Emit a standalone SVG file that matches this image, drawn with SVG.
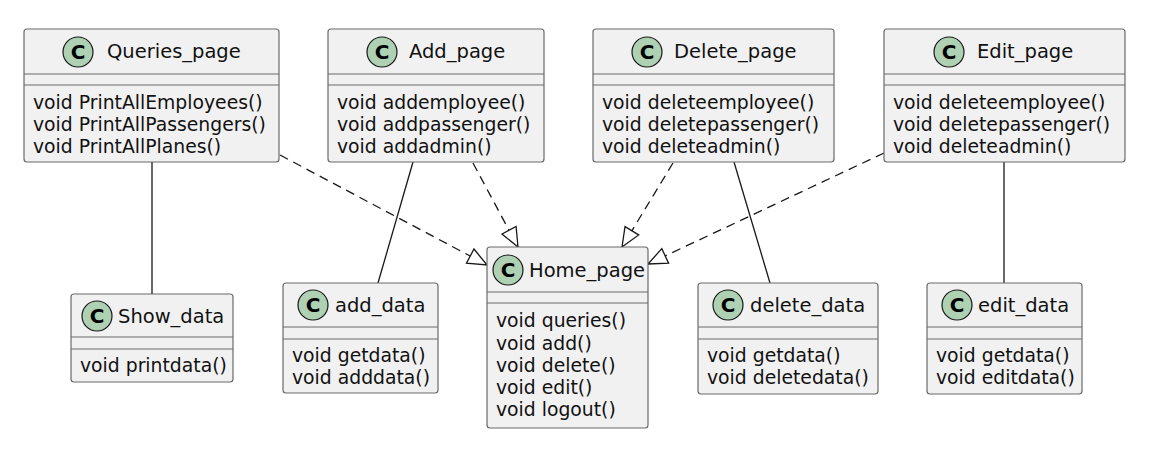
<svg xmlns="http://www.w3.org/2000/svg" width="1159" height="455" viewBox="0 0 1159 455">
<style>
.box{fill:#F1F1F1;stroke:#6a6a6a;stroke-width:1.2}
.sep{stroke:#6a6a6a;stroke-width:1.2}
.circ{fill:#ADD1B2;stroke:#181818;stroke-width:1.2}
.cl{font-family:"DejaVu Sans",sans-serif;font-size:20px;font-weight:bold;fill:#000;text-anchor:middle}
.t{font-family:"DejaVu Sans",sans-serif;font-size:19.5px;fill:#111}
.m{font-family:"DejaVu Sans",sans-serif;font-size:18.8px;fill:#111}
.solid{stroke:#181818;stroke-width:1.3;fill:none}
.dash{stroke:#181818;stroke-width:1.3;fill:none;stroke-dasharray:9,6}
</style>
<defs>
<marker id="tri" markerUnits="userSpaceOnUse" markerWidth="24" markerHeight="24" viewBox="-22 -11 24 22" refX="0" refY="0" orient="auto">
<path d="M0,0 L-19,-8 L-19,8 Z" fill="#FFFFFF" stroke="#181818" stroke-width="1.3"/>
</marker>
</defs>
<rect width="1159" height="455" fill="#FFFFFF"/>
<g id="connectors">
<line class="solid" x1="152" y1="162" x2="152" y2="294"/>
<line class="solid" x1="413" y1="162" x2="378" y2="283"/>
<line class="solid" x1="734" y1="162" x2="770" y2="283"/>
<line class="solid" x1="1004" y1="162" x2="1004" y2="283"/>
<line class="dash" x1="280" y1="155" x2="487" y2="265" marker-end="url(#tri)"/>
<line class="dash" x1="473" y1="163" x2="518" y2="247" marker-end="url(#tri)"/>
<line class="dash" x1="673" y1="163" x2="622" y2="247" marker-end="url(#tri)"/>
<line class="dash" x1="884" y1="153" x2="648" y2="264" marker-end="url(#tri)"/>
</g>
<g id="Queries_page">
<rect class="box" x="24" y="29" width="255" height="133" rx="3"/>
<line class="sep" x1="24" y1="74" x2="279" y2="74"/>
<line class="sep" x1="24" y1="85" x2="279" y2="85"/>
<circle class="circ" cx="78" cy="52" r="15"/>
<text class="cl" x="78" y="59">C</text>
<text class="t" x="107" y="58">Queries_page</text>
<text class="m" x="33" y="109">void PrintAllEmployees()</text>
<text class="m" x="33" y="131">void PrintAllPassengers()</text>
<text class="m" x="33" y="153">void PrintAllPlanes()</text>
</g>
<g id="Add_page">
<rect class="box" x="328" y="29" width="216" height="133" rx="3"/>
<line class="sep" x1="328" y1="74" x2="544" y2="74"/>
<line class="sep" x1="328" y1="85" x2="544" y2="85"/>
<circle class="circ" cx="382" cy="52" r="15"/>
<text class="cl" x="382" y="59">C</text>
<text class="t" x="409" y="58">Add_page</text>
<text class="m" x="337" y="109">void addemployee()</text>
<text class="m" x="337" y="131">void addpassenger()</text>
<text class="m" x="337" y="153">void addadmin()</text>
</g>
<g id="Delete_page">
<rect class="box" x="593" y="29" width="241" height="133" rx="3"/>
<line class="sep" x1="593" y1="74" x2="834" y2="74"/>
<line class="sep" x1="593" y1="85" x2="834" y2="85"/>
<circle class="circ" cx="647" cy="52" r="15"/>
<text class="cl" x="647" y="59">C</text>
<text class="t" x="674" y="58">Delete_page</text>
<text class="m" x="602" y="109">void deleteemployee()</text>
<text class="m" x="602" y="131">void deletepassenger()</text>
<text class="m" x="602" y="153">void deleteadmin()</text>
</g>
<g id="Edit_page">
<rect class="box" x="884" y="29" width="241" height="133" rx="3"/>
<line class="sep" x1="884" y1="74" x2="1125" y2="74"/>
<line class="sep" x1="884" y1="85" x2="1125" y2="85"/>
<circle class="circ" cx="949" cy="52" r="15"/>
<text class="cl" x="949" y="59">C</text>
<text class="t" x="977" y="58">Edit_page</text>
<text class="m" x="893" y="109">void deleteemployee()</text>
<text class="m" x="893" y="131">void deletepassenger()</text>
<text class="m" x="893" y="153">void deleteadmin()</text>
</g>
<g id="Show_data">
<rect class="box" x="71" y="294" width="162" height="88" rx="3"/>
<line class="sep" x1="71" y1="337" x2="233" y2="337"/>
<line class="sep" x1="71" y1="349" x2="233" y2="349"/>
<circle class="circ" cx="97" cy="316" r="15"/>
<text class="cl" x="97" y="323">C</text>
<text class="t" x="118" y="323">Show_data</text>
<text class="m" x="80" y="372">void printdata()</text>
</g>
<g id="add_data">
<rect class="box" x="283" y="283" width="155" height="110" rx="3"/>
<line class="sep" x1="283" y1="327" x2="438" y2="327"/>
<line class="sep" x1="283" y1="339" x2="438" y2="339"/>
<circle class="circ" cx="313" cy="305" r="15"/>
<text class="cl" x="313" y="312">C</text>
<text class="t" x="335" y="312">add_data</text>
<text class="m" x="292" y="362">void getdata()</text>
<text class="m" x="292" y="384">void adddata()</text>
</g>
<g id="Home_page">
<rect class="box" x="487" y="247" width="161" height="181" rx="3"/>
<line class="sep" x1="487" y1="292" x2="648" y2="292"/>
<line class="sep" x1="487" y1="303" x2="648" y2="303"/>
<circle class="circ" cx="508" cy="270" r="15"/>
<text class="cl" x="508" y="277">C</text>
<text class="t" x="529" y="277">Home_page</text>
<text class="m" x="496" y="327">void queries()</text>
<text class="m" x="496" y="350">void add()</text>
<text class="m" x="496" y="372">void delete()</text>
<text class="m" x="496" y="394">void edit()</text>
<text class="m" x="496" y="416">void logout()</text>
</g>
<g id="delete_data">
<rect class="box" x="698" y="283" width="180" height="111" rx="3"/>
<line class="sep" x1="698" y1="327" x2="878" y2="327"/>
<line class="sep" x1="698" y1="339" x2="878" y2="339"/>
<circle class="circ" cx="728" cy="305" r="15"/>
<text class="cl" x="728" y="312">C</text>
<text class="t" x="750" y="312">delete_data</text>
<text class="m" x="707" y="362">void getdata()</text>
<text class="m" x="707" y="384">void deletedata()</text>
</g>
<g id="edit_data">
<rect class="box" x="927" y="283" width="155" height="111" rx="3"/>
<line class="sep" x1="927" y1="327" x2="1082" y2="327"/>
<line class="sep" x1="927" y1="339" x2="1082" y2="339"/>
<circle class="circ" cx="957" cy="305" r="15"/>
<text class="cl" x="957" y="312">C</text>
<text class="t" x="978" y="312">edit_data</text>
<text class="m" x="936" y="362">void getdata()</text>
<text class="m" x="936" y="384">void editdata()</text>
</g>
</svg>
